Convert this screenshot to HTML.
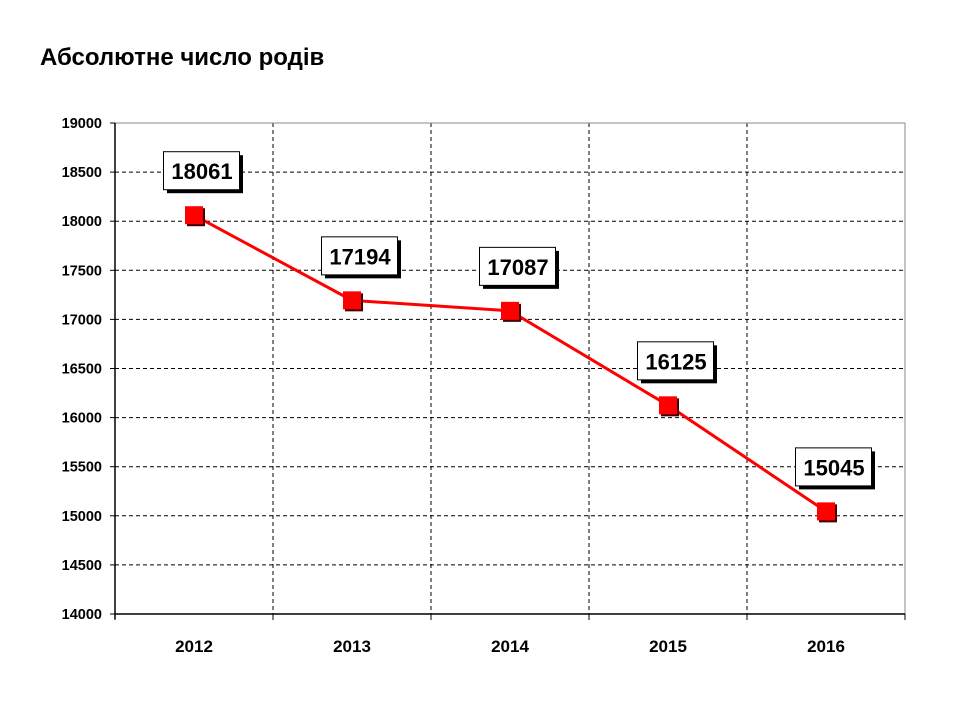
<!DOCTYPE html>
<html><head><meta charset="utf-8"><style>
body{margin:0;background:#fff;}
svg text{font-family:"Liberation Sans",Arial,sans-serif;font-weight:bold;}
</style></head><body>
<svg width="960" height="720">
<text x="40" y="65" font-size="24">Абсолютне число родів</text>
<g id="grid"></g><g id="axes"></g><g id="series"></g><g id="labels"></g>
</svg>
<script>
const categories=["2012","2013","2014","2015","2016"];
const values=[18061,17194,17087,16125,15045];
const yTicks=[14000,14500,15000,15500,16000,16500,17000,17500,18000,18500,19000];
const NS="http://www.w3.org/2000/svg";
const L=115,R=905,T=123,B=614,yMin=14000,yMax=19000;
const band=(R-L)/categories.length;
const x=i=>L+band*(i+0.5);
const y=v=>B-(v-yMin)/(yMax-yMin)*(B-T);
function mk(tag,attrs,parent){const e=document.createElementNS(NS,tag);for(const k in attrs)e.setAttribute(k,attrs[k]);document.getElementById(parent).appendChild(e);return e;}
let e;
yTicks.forEach(v=>{
 if(v>yMin&&v<yMax){e=mk('line',{x1:L,x2:R,y1:y(v),y2:y(v),stroke:'#000','stroke-dasharray':'4,3','stroke-width':1},'grid');
 
 }
 e=mk('line',{x1:L-5,x2:L,y1:y(v),y2:y(v),stroke:'#000'},'axes');
 
 
 e=mk('text',{x:L-13,y:y(v)+5,'text-anchor':'end','font-size':14.5},'axes');e.textContent=v;
 
 
});
for(let i=1;i<categories.length;i++){
 e=mk('line',{x1:L+band*i,x2:L+band*i,y1:T,y2:B,stroke:'#000','stroke-dasharray':'4,3'},'grid');
 
 
}
e=mk('line',{x1:L,x2:R,y1:T,y2:T,stroke:'#888'},'axes');


e=mk('line',{x1:R,x2:R,y1:T,y2:B,stroke:'#888'},'axes');


e=mk('line',{x1:L,x2:L,y1:T,y2:B+5,stroke:'#000','stroke-width':1.5},'axes');


e=mk('line',{x1:L,x2:R,y1:B,y2:B,stroke:'#000','stroke-width':1.5},'axes');


for(let i=0;i<=categories.length;i++){
 e=mk('line',{x1:L+band*i,x2:L+band*i,y1:B,y2:B+6,stroke:'#000'},'axes');
 
 
}
categories.forEach((c,i)=>{
 e=mk('text',{x:x(i),y:B+38,'text-anchor':'middle','font-size':17},'axes');e.textContent=c;
 
 
});
e=mk('polyline',{points:values.map((v,i)=>x(i)+','+y(v)).join(' '),fill:'none',stroke:'#f00','stroke-width':3},'series');


values.forEach((v,i)=>{
 e=mk('rect',{x:x(i)-7,y:y(v)-7,width:18,height:18,fill:'#400'},'series');
 
 
 e=mk('rect',{x:x(i)-9,y:y(v)-9,width:18,height:18,fill:'#f00'},'series');
 
 
 const cy=y(v)-44, cx=x(i)+8;
 e=mk('rect',{x:cx-35,y:cy-16,width:76,height:38,fill:'#000'},'labels');
 
 
 e=mk('rect',{x:cx-38.5,y:cy-19.5,width:76,height:38,fill:'#fff',stroke:'#000','stroke-width':1},'labels');
 
 
 e=mk('text',{x:cx,y:cy+8,'text-anchor':'middle','font-size':22},'labels');e.textContent=v;
 
 
});
</script>
</body></html>
